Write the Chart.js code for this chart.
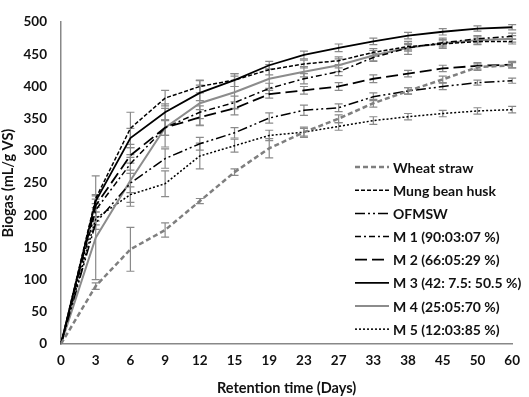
<!DOCTYPE html>
<html>
<head>
<meta charset="utf-8">
<script src="https://cdn.jsdelivr.net/npm/chart.js@4.4.0/dist/chart.umd.min.js"></script>
<style>
  html, body { margin: 0; padding: 0; background: #fff; }
  #wrap { width: 529px; height: 397px; }
</style>
</head>
<body>
<div id="wrap"><canvas id="chart"></canvas></div>
<script>
"use strict";

// retention time (days) - evenly spaced categories
const days = ['0', '3', '6', '9', '12', '15', '19', '23', '27', '33', '38', '45', '50', '60'];

// biogas yield (mL/g VS)
const wheatStraw = [0, 90, 147, 177, 222, 267, 304, 329, 350, 374, 393, 411, 430, 433];
const mungBeanHusk = [0, 226, 335, 382, 400, 410, 426, 435, 440, 453, 462, 466, 470, 470];
const ofmsw = [0, 188, 250, 288, 311, 328, 351, 363, 367, 384, 393, 400, 406, 409];
const m1 = [0, 208, 280, 336, 360, 375, 397, 412, 423, 445, 460, 468, 474, 478];
const m2 = [0, 215, 293, 336, 352, 366, 388, 394, 400, 412, 420, 428, 432, 434];
const m3 = [0, 222, 320, 360, 390, 410, 433, 449, 460, 470, 479, 485, 490, 492];
const m4 = [0, 165, 254, 336, 374, 391, 412, 423, 433, 448, 460, 467, 472, 474];
const m5 = [0, 195, 232, 249, 292, 308, 324, 329, 338, 347, 353, 358, 362, 364];

// +/- error (half bar length)
const wheatErr = [0, 5, 34, 11, 4, 5, 15, 6, 6, 6, 5, 5, 5, 4];
const mungErr = [0, 35, 25, 12, 10, 10, 8, 6, 6, 6, 5, 5, 5, 4];
const ofmswErr = [0, 10, 15, 15, 10, 8, 8, 8, 6, 6, 5, 5, 4, 4];
const m1Err = [0, 10, 10, 12, 10, 10, 8, 8, 6, 6, 5, 5, 5, 5];
const m2Err = [0, 10, 12, 12, 12, 10, 6, 6, 6, 6, 5, 5, 5, 5];
const m3Err = [0, 10, 15, 13, 12, 10, 6, 6, 6, 5, 5, 5, 4, 4];
const m4Err = [0, 65, 40, 30, 35, 25, 15, 8, 10, 8, 10, 8, 6, 5];
const m5Err = [0, 10, 12, 20, 20, 10, 8, 8, 6, 6, 5, 5, 5, 5];

const FONT = 'Lato';
const TEXT = '#111';

// gray error bars with caps, drawn under the lines
const errorBars = {
  id: 'errorBars',
  beforeDatasetsDraw(chart) {
    const ctx = chart.ctx;
    const xs = chart.scales.x;
    const ys = chart.scales.y;
    ctx.save();
    ctx.strokeStyle = '#8a8a8a';
    ctx.lineWidth = 1.2;
    chart.data.datasets.forEach(ds => {
      ds.data.forEach((v, i) => {
        const e = ds.err[i];
        if (!e) return;
        const x = xs.getPixelForValue(i);
        const top = ys.getPixelForValue(v + e);
        const bot = ys.getPixelForValue(v - e);
        ctx.beginPath();
        ctx.moveTo(x, top); ctx.lineTo(x, bot);
        ctx.moveTo(x - 4, top); ctx.lineTo(x + 4, top);
        ctx.moveTo(x - 4, bot); ctx.lineTo(x + 4, bot);
        ctx.stroke();
      });
    });
    ctx.restore();
  }
};

// legend sitting inside the plot, bottom right
const insideLegend = {
  id: 'insideLegend',
  afterDraw(chart) {
    const ctx = chart.ctx;
    const area = chart.chartArea;
    const x0 = area.left + 294;
    let y = area.top + 145;
    ctx.save();
    ctx.font = 'bold 14px ' + FONT;
    ctx.textBaseline = 'middle';
    chart.data.datasets.forEach(ds => {
      ctx.beginPath();
      ctx.setLineDash(ds.borderDash || []);
      ctx.strokeStyle = ds.borderColor;
      ctx.lineWidth = ds.borderWidth;
      ctx.moveTo(x0, y); ctx.lineTo(x0 + 34, y);
      ctx.stroke();
      ctx.setLineDash([]);
      ctx.fillStyle = TEXT;
      ctx.fillText(ds.label, x0 + 38, y + 1);
      y += 23.15;
    });
    ctx.restore();
  }
};

function series(label, data, err, color, width, dash) {
  return {
    label: label,
    data: data,
    err: err,
    borderColor: color,
    borderWidth: width,
    borderDash: dash,
    pointRadius: 0,
    tension: 0,
    fill: false
  };
}

const config = {
  type: 'line',
  data: {
    labels: days,
    datasets: [
      series('Wheat straw', wheatStraw, wheatErr, '#7f7f7f', 2.5, [5, 3]),
      series('Mung bean husk', mungBeanHusk, mungErr, '#000', 1.5, [4, 2]),
      series('OFMSW', ofmsw, ofmswErr, '#000', 1.5, [10, 3, 2, 3, 2, 3]),
      series('M 1 (90:03:07 %)', m1, m1Err, '#000', 1.5, [6, 3, 2, 3]),
      series('M 2 (66:05:29 %)', m2, m2Err, '#000', 1.8, [12, 5]),
      series('M 3 (42: 7.5: 50.5 %)', m3, m3Err, '#000', 1.8, []),
      series('M 4 (25:05:70 %)', m4, m4Err, '#8c8c8c', 2, []),
      series('M 5 (12:03:85 %)', m5, m5Err, '#000', 1.5, [2, 2])
    ]
  },
  options: {
    responsive: true,
    maintainAspectRatio: false,
    animation: false,
    layout: { padding: { top: 8, right: 13, left: 0, bottom: 0 } },
    plugins: {
      legend: { display: false },
      tooltip: { enabled: false }
    },
    scales: {
      x: {
        offset: false,
        grid: { display: false, drawTicks: false },
        border: { color: '#888', width: 1.5 },
        ticks: {
          color: TEXT,
          padding: 9,
          maxRotation: 0,
          autoSkip: false,
          font: { family: FONT, size: 13.5, weight: 'bold' }
        },
        title: {
          display: true,
          text: 'Retention time (Days)',
          color: TEXT,
          padding: { top: 3, bottom: 0 },
          font: { family: FONT, size: 14.5, weight: 'bold' }
        },
        afterFit: (scale) => { scale.height = 53; }
      },
      y: {
        min: 0,
        max: 500,
        grid: { display: false, drawTicks: false },
        border: { color: '#888', width: 1.5 },
        ticks: {
          stepSize: 50,
          color: TEXT,
          padding: 14,
          font: { family: FONT, size: 13.5, weight: 'bold' }
        },
        title: {
          display: true,
          text: 'Biogas (mL/g VS)',
          color: TEXT,
          padding: { top: 0, bottom: 4 },
          font: { family: FONT, size: 14.5, weight: 'bold' }
        },
        afterFit: (scale) => { scale.width = 61; }
      }
    }
  },
  plugins: [errorBars, insideLegend]
};

new Chart(document.getElementById('chart'), config);
</script>
</body>
</html>
